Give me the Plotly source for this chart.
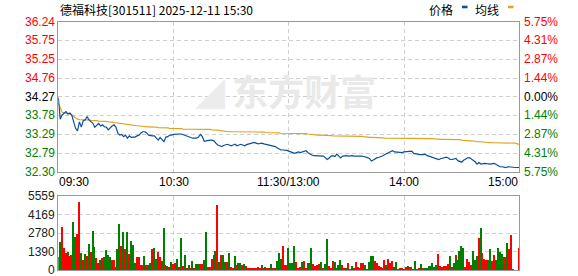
import plotly.graph_objects as go

W, H = 578, 276

title_text = "德福科技[301511] 2025-12-11 15:30"
prev_close = 34.27

# minute index 0..240 (09:30 .. 11:30/13:00 .. 15:00)
price = [
    34.25, 33.68, 33.79, 33.85, 33.88, 33.82, 33.84, 33.79, 33.61, 33.44,
    33.37, 33.61, 33.47, 33.64, 33.66, 33.75, 33.66, 33.61, 33.57, 33.47,
    33.53, 33.57, 33.50, 33.53, 33.48, 33.47, 33.40, 33.46, 33.50, 33.53,
    33.47, 33.31, 33.26, 33.28, 33.22, 33.26, 33.18, 33.24, 33.20, 33.21,
    33.21, 33.24, 33.26, 33.32, 33.35, 33.35, 33.32, 33.26, 33.24, 33.24,
    33.24, 33.18, 33.13, 33.20, 33.15, 33.09, 33.21, 33.22, 33.26, 33.26,
    33.28, 33.29, 33.29, 33.29, 33.29, 33.27, 33.24, 33.22, 33.20, 33.19,
    33.18, 33.18, 33.18, 33.21, 33.28, 33.22, 33.10, 33.11, 33.13, 33.13,
    33.13, 33.11, 33.05, 33.00, 32.98, 32.96, 32.99, 33.00, 33.02, 33.00,
    32.98, 33.00, 33.02, 32.98, 33.00, 33.02, 33.00, 32.98, 33.01, 33.03,
    33.03, 33.05, 33.07, 33.05, 33.03, 33.04, 33.05, 33.03, 33.02, 33.00,
    33.00, 33.00, 32.98, 32.96, 32.92, 32.89, 32.87, 32.87, 32.87, 32.86,
    32.84,
    32.83, 32.80, 32.78, 32.81, 32.82, 32.80, 32.81, 32.82, 32.85, 32.80,
    32.76, 32.74, 32.72, 32.72, 32.72, 32.72, 32.72, 32.71, 32.67, 32.62,
    32.66, 32.71, 32.72, 32.70, 32.76, 32.72, 32.66, 32.71, 32.72, 32.72,
    32.71, 32.72, 32.72, 32.71, 32.71, 32.72, 32.72, 32.71, 32.70, 32.69,
    32.67, 32.65, 32.58, 32.61, 32.65, 32.67, 32.68, 32.69, 32.72, 32.75,
    32.77, 32.80, 32.83, 32.85, 32.82, 32.81, 32.82, 32.81, 32.80, 32.82,
    32.83, 32.83, 32.84, 32.84, 32.78, 32.76, 32.76, 32.75, 32.74, 32.75,
    32.76, 32.72, 32.71, 32.69, 32.67, 32.65, 32.63, 32.62, 32.64, 32.66,
    32.68, 32.68, 32.66, 32.62, 32.62, 32.63, 32.65, 32.59, 32.58, 32.55,
    32.60, 32.64, 32.66, 32.67, 32.64, 32.60, 32.56, 32.50, 32.54, 32.50,
    32.52, 32.52, 32.51, 32.50, 32.50, 32.51, 32.52, 32.49, 32.46, 32.43,
    32.43, 32.42, 32.41, 32.43, 32.42, 32.41, 32.41, 32.41, 32.41, 32.41,
]

avg_price = [
    34.10, 33.95, 33.86, 33.85, 33.84, 33.83, 33.81, 33.79, 33.75, 33.71,
    33.68, 33.67, 33.67, 33.66, 33.66, 33.66, 33.66, 33.65, 33.65, 33.64,
    33.64, 33.63, 33.63, 33.62, 33.62, 33.62, 33.61, 33.61, 33.60, 33.59,
    33.59, 33.58, 33.57, 33.57, 33.56, 33.55, 33.54, 33.53, 33.53, 33.52,
    33.51, 33.51, 33.50, 33.50, 33.49, 33.49, 33.48, 33.48, 33.48, 33.47,
    33.47, 33.47, 33.46, 33.46, 33.46, 33.45, 33.45, 33.45, 33.44, 33.44,
    33.44, 33.44, 33.44, 33.43, 33.43, 33.42, 33.42, 33.41, 33.41, 33.41,
    33.41, 33.41, 33.41, 33.41, 33.41, 33.41, 33.41, 33.41, 33.41, 33.41,
    33.40, 33.40, 33.40, 33.39, 33.38, 33.37, 33.36, 33.36, 33.35, 33.35,
    33.35, 33.35, 33.35, 33.34, 33.34, 33.34, 33.34, 33.34, 33.34, 33.34,
    33.34, 33.34, 33.34, 33.34, 33.34, 33.34, 33.34, 33.34, 33.33, 33.33,
    33.33, 33.33, 33.33, 33.33, 33.32, 33.32, 33.31, 33.31, 33.31, 33.31,
    33.31,
    33.31, 33.31, 33.31, 33.31, 33.31, 33.31, 33.31, 33.31, 33.30, 33.29,
    33.28, 33.27, 33.26, 33.26, 33.26, 33.26, 33.26, 33.26, 33.26, 33.26,
    33.26, 33.25, 33.24, 33.24, 33.24, 33.24, 33.24, 33.24, 33.24, 33.24,
    33.24, 33.24, 33.24, 33.24, 33.24, 33.24, 33.24, 33.23, 33.22, 33.21,
    33.20, 33.20, 33.20, 33.20, 33.20, 33.20, 33.20, 33.20, 33.19, 33.18,
    33.18, 33.18, 33.18, 33.18, 33.18, 33.18, 33.18, 33.18, 33.18, 33.18,
    33.18, 33.18, 33.18, 33.18, 33.18, 33.18, 33.18, 33.18, 33.18, 33.18,
    33.18, 33.18, 33.18, 33.18, 33.17, 33.16, 33.15, 33.15, 33.15, 33.15,
    33.15, 33.15, 33.15, 33.15, 33.15, 33.15, 33.15, 33.15, 33.14, 33.13,
    33.12, 33.12, 33.11, 33.11, 33.11, 33.11, 33.10, 33.09, 33.09, 33.09,
    33.09, 33.08, 33.07, 33.06, 33.06, 33.06, 33.06, 33.06, 33.06, 33.05,
    33.05, 33.05, 33.05, 33.05, 33.05, 33.05, 33.05, 33.05, 33.03, 33.02,
]

volume = [
    1000, 2090, 3240, 1640, 1300, 1340, 1070, 1150, 3590, 2490,
    2690, 5080, 1270, 770, 1220, 1070, 1940, 1400, 2910, 1720,
    920, 550, 770, 950, 1000, 1520, 1150, 1000, 770, 770,
    270, 1590, 3440, 1820, 2890, 1620, 2840, 1250, 2190, 1890,
    550, 1000, 1000, 400, 400, 1100, 400, 400, 550, 1570,
    1690, 870, 1400, 1000, 720, 3160, 400, 320, 270, 600,
    500, 550, 870, 270, 2440, 320, 1150, 150, 400, 150,
    720, 150, 470, 470, 470, 470, 770, 2860, 270, 270,
    850, 1150, 1440, 4880, 620, 1150, 1150, 620, 620, 1270,
    270, 150, 1070, 400, 550, 550, 400, 450, 320, 150,
    150, 150, 150, 150, 270, 150, 400, 150, 270, 150,
    150, 470, 150, 150, 720, 1300, 850, 1820, 400, 400,
    1690,
    550, 550, 1820, 620, 200, 270, 620, 700, 200, 550,
    550, 1670, 470, 350, 420, 470, 620, 200, 470, 2340,
    320, 200, 700, 620, 200, 400, 770, 400, 150, 200,
    550, 120, 350, 200, 620, 270, 200, 550, 550, 400,
    120, 620, 1070, 1070, 700, 550, 320, 270, 200, 770,
    400, 850, 550, 700, 270, 620, 75, 150, 150, 120,
    270, 320, 270, 270, 100, 700, 100, 150, 470, 150,
    200, 200, 320, 320, 550, 220, 400, 1220, 320, 270,
    300, 320, 470, 1070, 270, 550, 1150, 770, 1440, 1820,
    1670, 250, 850, 620, 400, 1440, 770, 1070, 2420, 3160,
    1300, 850, 770, 770, 1590, 700, 1150, 770, 1670, 1370,
    1220, 1000, 1000, 2040, 1590, 2640, 100, 0, 0, 1670,
]

# r = up tick (red), g = down tick (green)
updown = (
    "ggrrrgrrgg" "rrgrgrgrgg" "rrgrggggrr" "rggrgrgrgg" "grrrrgrggr"
    "ggrrggrgrg" "rrgrgrgrgr" "grggrrggrr" "rggrgrggrg" "rrgrggrgrr"
    "rrrrrrgrgr" "rgrrgggrrr" "g"
    "gggrrrgrrg" "ggrrrrgrgg" "rrrggggrrg" "rrgrrgrrrg" "rgggrrrrrr"
    "grrrggrrrg" "rgrrggrrgr" "gggggggrrr" "rrrgrgrggg" "grrrrgggrg"
    "rrrggrrggg" "grrgrrgrrr"
)

price_ticks = [36.24, 35.75, 35.25, 34.76, 34.27, 33.78, 33.29, 32.79, 32.30]
pct_ticks = ["5.75%", "4.31%", "2.87%", "1.44%", "0.00%", "1.44%", "2.87%", "4.31%", "5.75%"]
vol_ticks = [5559, 4169, 2780, 1390, 0]
time_ticks = [0, 60, 120, 180, 240]
time_labels = ["09:30", "10:30", "11:30/13:00", "14:00", "15:00"]

RED = "#ff0000"
GREEN = "#008000"
BLUE = "#0b4f9e"
GOLD = "#e0a322"
GRID = "#cfcfcf"
BORDER = "#999999"
FONT = "Liberation Sans, Arial, sans-serif"
CJK = "Noto Sans CJK SC, sans-serif"


def px(x):
    return x / W


def py(y):
    return 1 - y / H


X0, X1 = 58.3, 519.3
PY0, PY1 = 21.7, 171.7
VY0, VY1 = 196.0, 270.3

n = len(price)
xs = list(range(n))

fig = go.Figure()

# watermark (behind lines)
fig.add_trace(go.Scatter(
    x=[128], y=[34.25], mode="text", text=["<b>东方财富</b>"],
    textfont=dict(family=CJK, size=36, color="#e9e9e9"),
    hoverinfo="skip", showlegend=False, xaxis="x", yaxis="y",
))
fig.add_trace(go.Scatter(
    x=[79], y=[34.25], mode="text", text=["<b>◢</b>"],
    textfont=dict(family=CJK, size=30, color="#ececec"),
    hoverinfo="skip", showlegend=False, xaxis="x", yaxis="y",
))

fig.add_trace(go.Scatter(
    x=xs, y=avg_price, mode="lines", line=dict(color=GOLD, width=1.2),
    hoverinfo="skip", showlegend=False, xaxis="x", yaxis="y",
))
fig.add_trace(go.Scatter(
    x=xs, y=price, mode="lines", line=dict(color=BLUE, width=1.2),
    hoverinfo="skip", showlegend=False, xaxis="x", yaxis="y",
))

bar_colors = [RED if c == "r" else GREEN for c in updown]
fig.add_trace(go.Bar(
    x=xs, y=volume, marker=dict(color=bar_colors, line=dict(width=0)),
    width=0.6, hoverinfo="skip", showlegend=False, xaxis="x2", yaxis="y2",
))

axis_common = dict(showline=True, mirror=True, linecolor=BORDER, linewidth=1,
                   zeroline=False, ticks="", showticklabels=False, fixedrange=True)

fig.update_layout(
    width=W, height=H, margin=dict(l=0, r=0, t=0, b=0),
    paper_bgcolor="white", plot_bgcolor="white",
    bargap=0,
    xaxis=dict(domain=[px(X0), px(X1)], range=[0, 240], anchor="y",
               tickvals=[60, 120, 180], showgrid=True, gridcolor=GRID,
               griddash="4px,3px", gridwidth=1, **axis_common),
    yaxis=dict(domain=[py(PY1), py(PY0)], range=[price_ticks[-1], price_ticks[0]],
               anchor="x", tickvals=price_ticks[1:-1], showgrid=True, gridcolor=GRID,
               griddash="4px,3px", gridwidth=1, **axis_common),
    xaxis2=dict(domain=[px(X0), px(X1)], range=[0, 240], anchor="y2",
                tickvals=[60, 120, 180], showgrid=True, gridcolor=GRID,
                griddash="4px,3px", gridwidth=1, **axis_common),
    yaxis2=dict(domain=[py(VY1), py(VY0)], range=[0, vol_ticks[0]], anchor="x2",
                tickvals=vol_ticks[1:-1], showgrid=True, gridcolor=GRID,
                griddash="4px,3px", gridwidth=1, **axis_common),
)

ann = []
# title
ann.append(dict(x=px(58), y=py(9), xref="paper", yref="paper", xanchor="left",
                yanchor="middle", text=title_text, showarrow=False,
                font=dict(family=CJK, size=12, color="#000000")))
# legend
ann.append(dict(x=px(455), y=py(9.5), xref="paper", yref="paper", xanchor="right",
                yanchor="middle", text="价格", showarrow=False,
                font=dict(family=CJK, size=12, color="#000000")))
ann.append(dict(x=px(501), y=py(9.5), xref="paper", yref="paper", xanchor="right",
                yanchor="middle", text="均线", showarrow=False,
                font=dict(family=CJK, size=12, color="#000000")))

# price & percent labels
for i, (p, pc) in enumerate(zip(price_ticks, pct_ticks)):
    if p > prev_close + 1e-9:
        col = RED
    elif p < prev_close - 1e-9:
        col = GREEN
    else:
        col = "#000000"
    ann.append(dict(x=px(57), y=p, xref="paper", yref="y", xanchor="right",
                    yanchor="middle", text=f"{p:.2f}", showarrow=False,
                    font=dict(family=FONT, size=12, color=col)))
    ann.append(dict(x=px(522), y=p, xref="paper", yref="y", xanchor="left",
                    yanchor="middle", text=pc, showarrow=False,
                    font=dict(family=FONT, size=12, color=col)))

# volume labels
for v in vol_ticks:
    ann.append(dict(x=px(57), y=v, xref="paper", yref="y2", xanchor="right",
                    yanchor="middle", text=str(v), showarrow=False,
                    font=dict(family=FONT, size=12, color="#222222")))

# time labels
for t, lab in zip(time_ticks, time_labels):
    if t == time_ticks[0]:
        xa, xp = "left", X0 - 1
    elif t == time_ticks[-1]:
        xa, xp = "right", X1 + 1
    else:
        xa, xp = "center", X0 + (X1 - X0) * t / 240
    ann.append(dict(x=px(xp), y=py(182), xref="paper", yref="paper", xanchor=xa,
                    yanchor="middle", text=lab, showarrow=False,
                    font=dict(family=FONT, size=12, color="#000000")))

fig.update_layout(annotations=ann)

# legend swatches
fig.update_layout(shapes=[
    dict(type="rect", xref="paper", yref="paper", x0=px(462), x1=px(467.5),
         y0=py(8.3), y1=py(5.7), fillcolor=BLUE, line=dict(width=0)),
    dict(type="rect", xref="paper", yref="paper", x0=px(508), x1=px(513.5),
         y0=py(8.3), y1=py(5.7), fillcolor=GOLD, line=dict(width=0)),
])

fig.write_html("out.html")
